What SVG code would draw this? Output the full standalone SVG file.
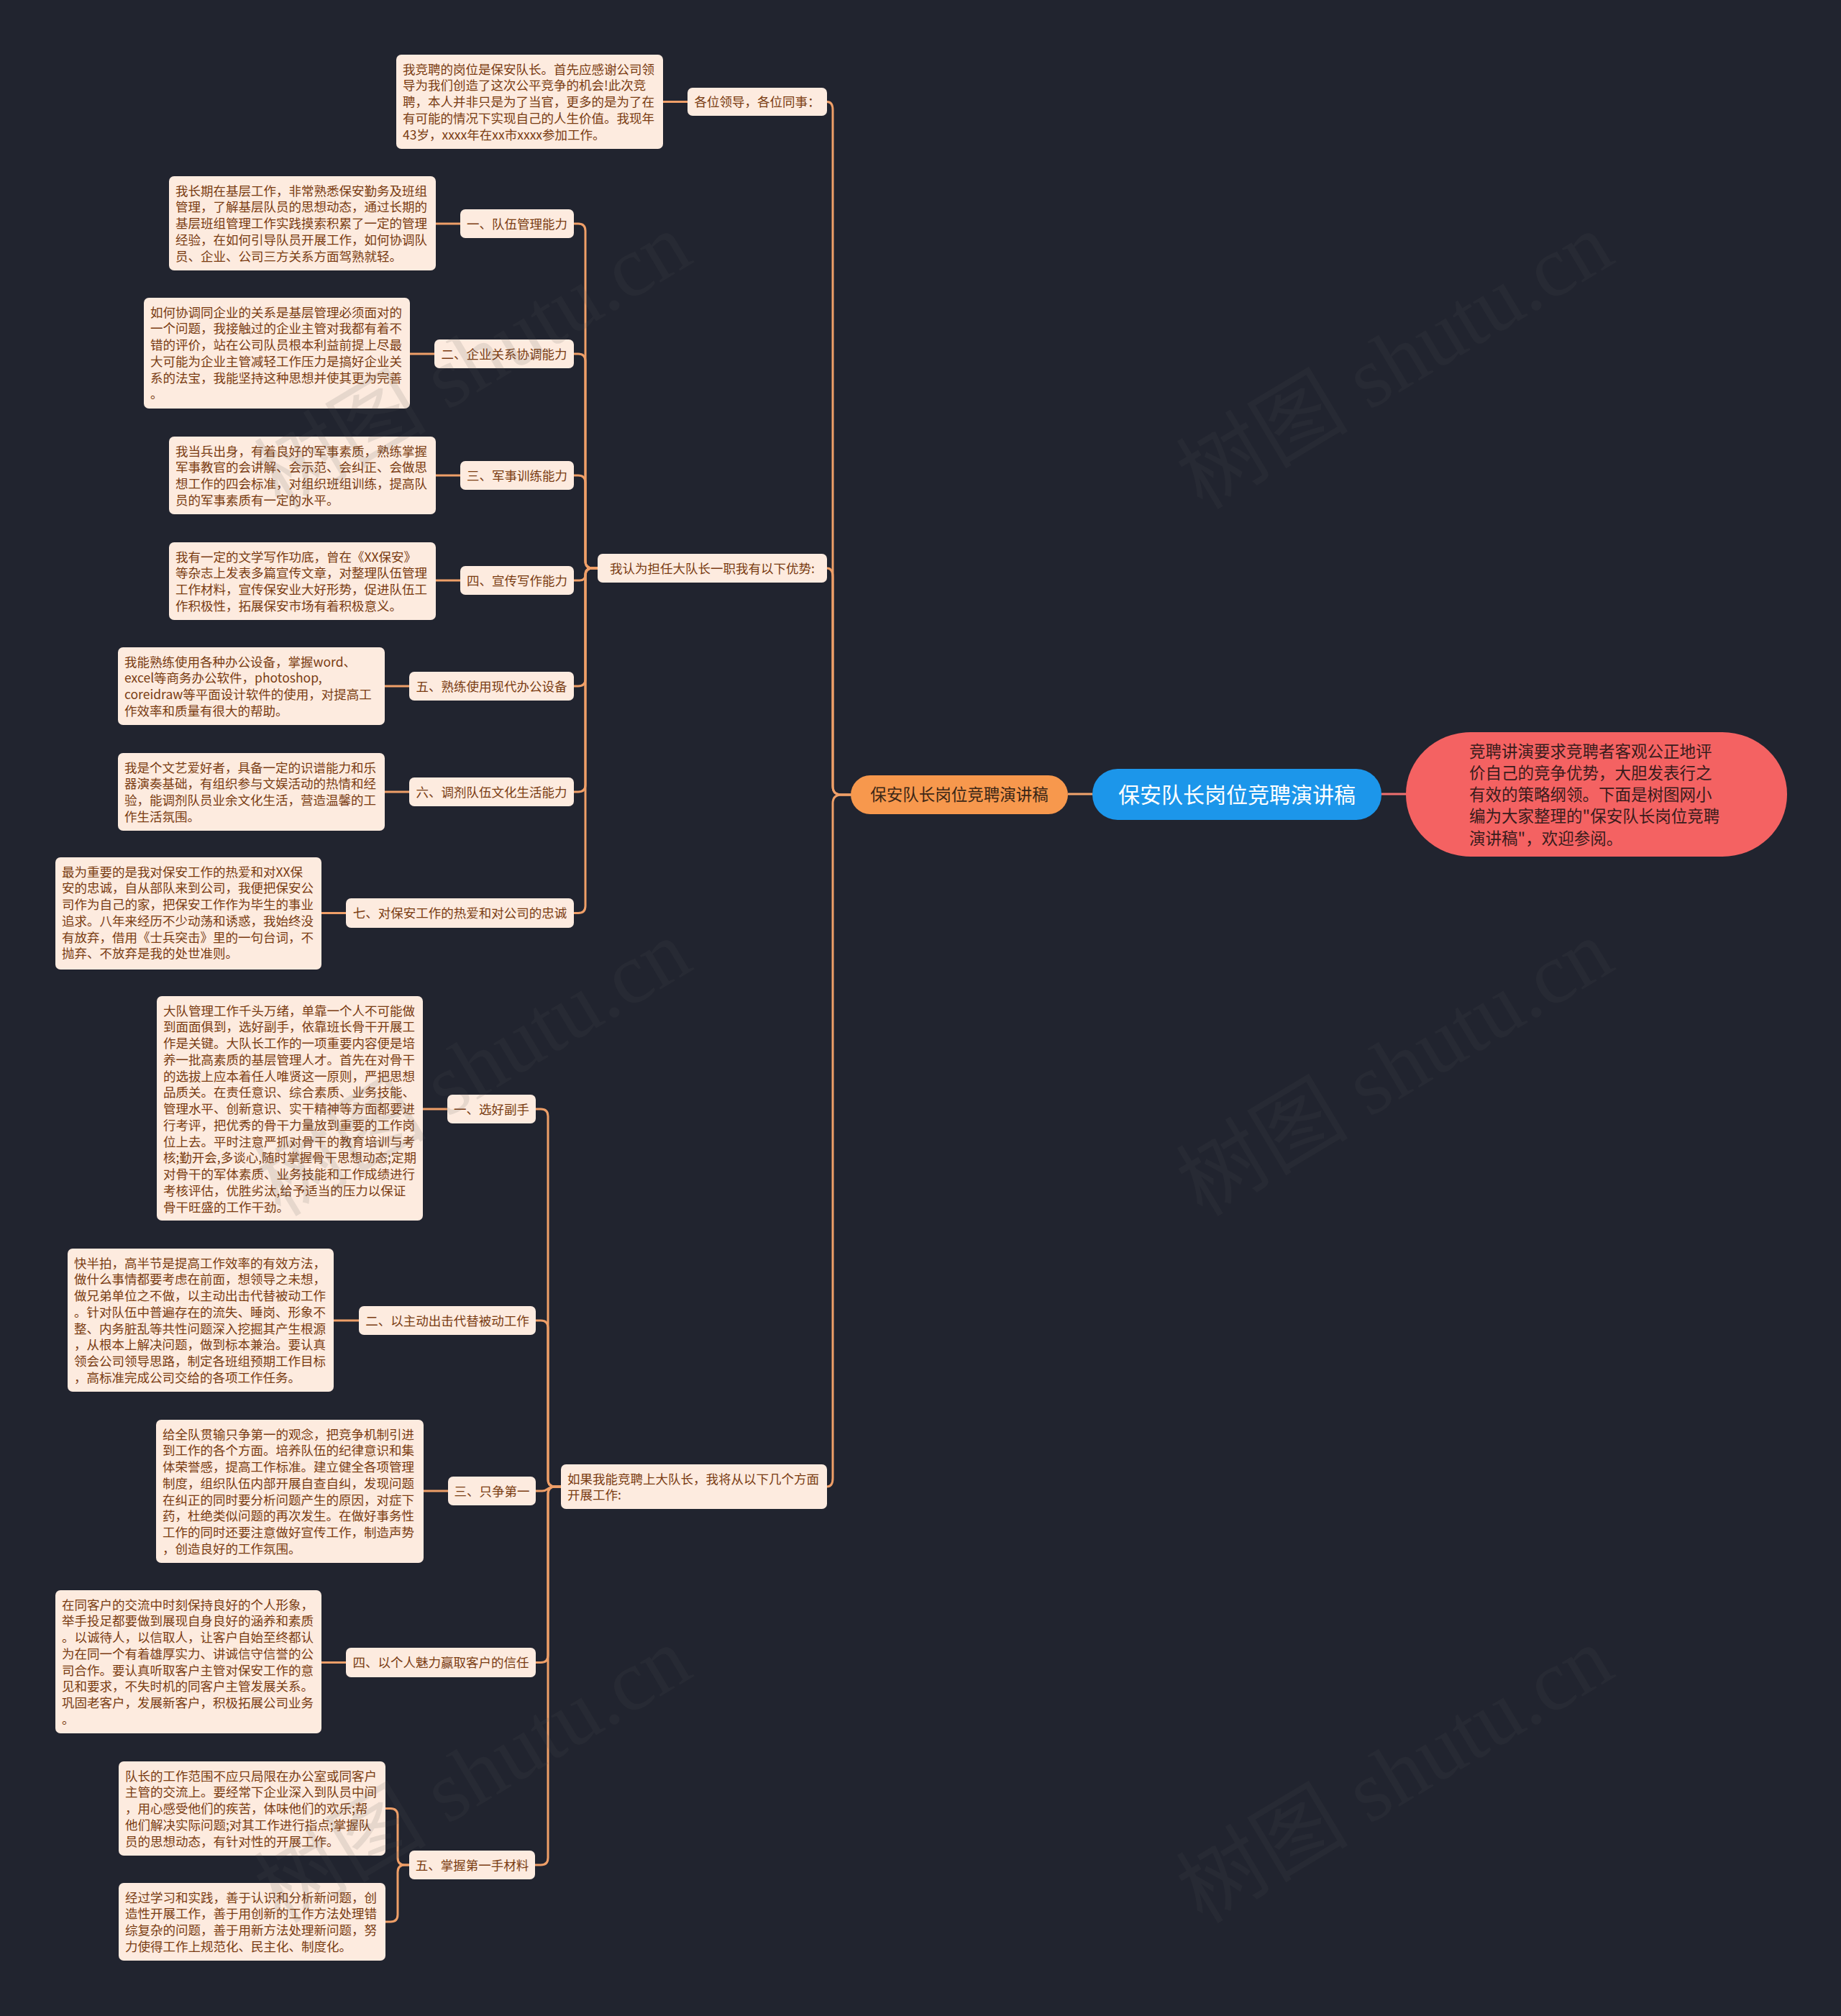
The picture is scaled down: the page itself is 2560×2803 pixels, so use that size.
<svg xmlns="http://www.w3.org/2000/svg" width="2560" height="2803" viewBox="0 0 2560 2803">
<style>
.bg{fill:#21242f}
.box{fill:#fdebdf}
.t{font-family:"Noto Sans CJK SC","Liberation Sans",sans-serif;font-size:17.5px;fill:#7a3c12}
.tc{font-family:"Noto Sans CJK SC","Liberation Sans",sans-serif;font-size:17.5px;fill:#7a3c12;text-anchor:middle}
.ln{fill:none;stroke:#ef9f68;stroke-width:3;stroke-linecap:round}
.wm{font-family:"Liberation Serif","Noto Sans CJK SC",serif;font-size:120px;fill:#555555;opacity:0.13}
</style>
<rect class="bg" x="0" y="0" width="2560" height="2803"/>

<g id="connectors">
  <line x1="1921" y1="1104" x2="1955" y2="1104" stroke="#ef6f6f" stroke-width="3"/>
  <line x1="1485" y1="1104" x2="1519" y2="1104" stroke="#f2a46c" stroke-width="3"/>
  <path class="ln" d="M1183 1105 H1170 Q1158 1105 1158 1093 V153 Q1158 141.5 1150 141.5"/>
  <path class="ln" d="M1183 1105 H1170 Q1158 1105 1158 1093 V802 Q1158 790 1150 790"/>
  <path class="ln" d="M1183 1105 H1170 Q1158 1105 1158 1117 V2055 Q1158 2067 1150 2067"/>
  <line class="ln" x1="922" y1="141.5" x2="956" y2="141.5"/>
  <path class="ln" d="M831 790 H824 Q814 790 814 780 V321 Q814 311 804 311 H798"/>
  <path class="ln" d="M831 790 H824 Q814 790 814 780 V502 Q814 492 804 492 H798"/>
  <path class="ln" d="M831 790 H824 Q814 790 814 780 V671 Q814 661 804 661 H798"/>
  <path class="ln" d="M831 790 H824 Q814 790 814 798 V799 Q814 807 806 807 H798"/>
  <path class="ln" d="M831 790 H824 Q814 790 814 800 V944 Q814 954 804 954 H798"/>
  <path class="ln" d="M831 790 H824 Q814 790 814 800 V1091 Q814 1101 804 1101 H798"/>
  <path class="ln" d="M831 790 H824 Q814 790 814 800 V1259.5 Q814 1269.5 804 1269.5 H798"/>
  <line class="ln" x1="606" y1="311" x2="640" y2="311"/>
  <line class="ln" x1="570" y1="492" x2="604" y2="492"/>
  <line class="ln" x1="606" y1="661" x2="640" y2="661"/>
  <line class="ln" x1="606" y1="807" x2="640" y2="807"/>
  <line class="ln" x1="535" y1="954" x2="569" y2="954"/>
  <line class="ln" x1="535" y1="1101" x2="569" y2="1101"/>
  <line class="ln" x1="447" y1="1269.5" x2="481" y2="1269.5"/>
  <path class="ln" d="M780 2067 H772 Q762 2067 762 2057 V1552 Q762 1542 752 1542 H745"/>
  <path class="ln" d="M780 2067 H772 Q762 2067 762 2057 V1846 Q762 1836 752 1836 H745"/>
  <path class="ln" d="M780 2067 H770 C762 2067 762 2073 754 2073 H745"/>
  <path class="ln" d="M780 2067 H772 Q762 2067 762 2077 V2301.5 Q762 2311.5 752 2311.5 H745"/>
  <path class="ln" d="M780 2067 H772 Q762 2067 762 2077 V2583 Q762 2593 752 2593 H744"/>
  <line class="ln" x1="588" y1="1542" x2="622" y2="1542"/>
  <line class="ln" x1="464" y1="1836" x2="499" y2="1836"/>
  <line class="ln" x1="589" y1="2073" x2="623" y2="2073"/>
  <line class="ln" x1="447" y1="2311.5" x2="481" y2="2311.5"/>
  <path class="ln" d="M569 2593 H563 Q553 2593 553 2583 V2524.5 Q553 2514.5 543 2514.5 H536"/>
  <path class="ln" d="M569 2593 H563 Q553 2593 553 2603 V2662 Q553 2672 543 2672 H536"/>
</g>

<g id="root">
  <rect x="1519" y="1069" width="402" height="71" rx="35" fill="#1c96ea"/>
  <text x="1720" y="1115.5" font-family="Noto Sans CJK SC, Liberation Sans, sans-serif" font-size="30" fill="#ffffff" text-anchor="middle">保安队长岗位竞聘演讲稿</text>
</g>

<g id="summary">
  <rect x="1955" y="1018" width="530" height="173" rx="90" ry="86" fill="#f46262"/>
  <text font-family="Noto Sans CJK SC, Liberation Sans, sans-serif" font-size="22.5" fill="#3a1c1c">
    <tspan x="2043" y="1052.5">竞聘讲演要求竞聘者客观公正地评</tspan>
    <tspan x="2043" y="1082.5">价自己的竞争优势，大胆发表行之</tspan>
    <tspan x="2043" y="1112.5">有效的策略纲领。下面是树图网小</tspan>
    <tspan x="2043" y="1143">编为大家整理的"保安队长岗位竞聘</tspan>
    <tspan x="2043" y="1173.5">演讲稿"，欢迎参阅。</tspan>
  </text>
</g>

<g id="main-branch">
  <rect x="1183" y="1078" width="302" height="54" rx="27" fill="#f7984d"/>
  <text x="1334" y="1113" font-family="Noto Sans CJK SC, Liberation Sans, sans-serif" font-size="22.5" fill="#3b2616" text-anchor="middle">保安队长岗位竞聘演讲稿</text>
</g>

<g id="n-greeting">
  <rect class="box" x="956" y="122" width="194" height="39" rx="7"/>
  <text class="tc" x="1053" y="148">各位领导，各位同事：</text>
</g>
<g id="n-greeting-leaf">
  <rect class="box" x="551" y="76" width="371" height="131" rx="7"/>
  <text class="t">
    <tspan x="560" y="102.5">我竞聘的岗位是保安队长。首先应感谢公司领</tspan>
    <tspan x="560" y="125.25">导为我们创造了这次公平竞争的机会!此次竞</tspan>
    <tspan x="560" y="148">聘，本人并非只是为了当官，更多的是为了在</tspan>
    <tspan x="560" y="170.75">有可能的情况下实现自己的人生价值。我现年</tspan>
    <tspan x="560" y="193.5">43岁，xxxx年在xx市xxxx参加工作。</tspan>
  </text>
</g>

<g id="n-advantages">
  <rect class="box" x="831" y="770" width="319" height="40" rx="7"/>
  <text class="tc" x="990.5" y="796.5">我认为担任大队长一职我有以下优势:</text>
</g>

<g id="a1">
  <rect class="box" x="640" y="291" width="158" height="40" rx="7"/>
  <text class="tc" x="719" y="317.5">一、队伍管理能力</text>
</g>
<g id="a1-leaf">
  <rect class="box" x="235" y="245" width="371" height="131" rx="7"/>
  <text class="t">
    <tspan x="244" y="271.5">我长期在基层工作，非常熟悉保安勤务及班组</tspan>
    <tspan x="244" y="294.25">管理，了解基层队员的思想动态，通过长期的</tspan>
    <tspan x="244" y="317">基层班组管理工作实践摸索积累了一定的管理</tspan>
    <tspan x="244" y="339.75">经验，在如何引导队员开展工作，如何协调队</tspan>
    <tspan x="244" y="362.5">员、企业、公司三方关系方面驾熟就轻。</tspan>
  </text>
</g>

<g id="a2">
  <rect class="box" x="604" y="472" width="194" height="40" rx="7"/>
  <text class="tc" x="701" y="498.5">二、企业关系协调能力</text>
</g>
<g id="a2-leaf">
  <rect class="box" x="200" y="414" width="370" height="154" rx="7"/>
  <text class="t">
    <tspan x="209" y="440.5">如何协调同企业的关系是基层管理必须面对的</tspan>
    <tspan x="209" y="463.25">一个问题，我接触过的企业主管对我都有着不</tspan>
    <tspan x="209" y="486">错的评价，站在公司队员根本利益前提上尽最</tspan>
    <tspan x="209" y="508.75">大可能为企业主管减轻工作压力是搞好企业关</tspan>
    <tspan x="209" y="531.5">系的法宝，我能坚持这种思想并使其更为完善</tspan>
    <tspan x="209" y="554.25">。</tspan>
  </text>
</g>

<g id="a3">
  <rect class="box" x="640" y="641" width="158" height="40" rx="7"/>
  <text class="tc" x="719" y="667.5">三、军事训练能力</text>
</g>
<g id="a3-leaf">
  <rect class="box" x="235" y="607" width="371" height="108" rx="7"/>
  <text class="t">
    <tspan x="244" y="633.5">我当兵出身，有着良好的军事素质，熟练掌握</tspan>
    <tspan x="244" y="656.25">军事教官的会讲解、会示范、会纠正、会做思</tspan>
    <tspan x="244" y="679">想工作的四会标准，对组织班组训练，提高队</tspan>
    <tspan x="244" y="701.75">员的军事素质有一定的水平。</tspan>
  </text>
</g>

<g id="a4">
  <rect class="box" x="640" y="787" width="158" height="40" rx="7"/>
  <text class="tc" x="719" y="813.5">四、宣传写作能力</text>
</g>
<g id="a4-leaf">
  <rect class="box" x="235" y="754" width="371" height="108" rx="7"/>
  <text class="t">
    <tspan x="244" y="780.5">我有一定的文学写作功底，曾在《XX保安》</tspan>
    <tspan x="244" y="803.25">等杂志上发表多篇宣传文章，对整理队伍管理</tspan>
    <tspan x="244" y="826">工作材料，宣传保安业大好形势，促进队伍工</tspan>
    <tspan x="244" y="848.75">作积极性，拓展保安市场有着积极意义。</tspan>
  </text>
</g>

<g id="a5">
  <rect class="box" x="569" y="934" width="229" height="40" rx="7"/>
  <text class="tc" x="683.5" y="960.5">五、熟练使用现代办公设备</text>
</g>
<g id="a5-leaf">
  <rect class="box" x="164" y="900" width="371" height="108" rx="7"/>
  <text class="t">
    <tspan x="173" y="926.5">我能熟练使用各种办公设备，掌握word、</tspan>
    <tspan x="173" y="949.25">excel等商务办公软件，photoshop,</tspan>
    <tspan x="173" y="972">coreidraw等平面设计软件的使用，对提高工</tspan>
    <tspan x="173" y="994.75">作效率和质量有很大的帮助。</tspan>
  </text>
</g>

<g id="a6">
  <rect class="box" x="569" y="1081" width="229" height="40" rx="7"/>
  <text class="tc" x="683.5" y="1107.5">六、调剂队伍文化生活能力</text>
</g>
<g id="a6-leaf">
  <rect class="box" x="164" y="1047" width="371" height="108" rx="7"/>
  <text class="t">
    <tspan x="173" y="1073.5">我是个文艺爱好者，具备一定的识谱能力和乐</tspan>
    <tspan x="173" y="1096.25">器演奏基础，有组织参与文娱活动的热情和经</tspan>
    <tspan x="173" y="1119">验，能调剂队员业余文化生活，营造温馨的工</tspan>
    <tspan x="173" y="1141.75">作生活氛围。</tspan>
  </text>
</g>

<g id="a7">
  <rect class="box" x="481" y="1249" width="317" height="41" rx="7"/>
  <text class="tc" x="639.5" y="1276">七、对保安工作的热爱和对公司的忠诚</text>
</g>
<g id="a7-leaf">
  <rect class="box" x="77" y="1192" width="370" height="156" rx="7"/>
  <text class="t">
    <tspan x="86" y="1218.5">最为重要的是我对保安工作的热爱和对XX保</tspan>
    <tspan x="86" y="1241.25">安的忠诚，自从部队来到公司，我便把保安公</tspan>
    <tspan x="86" y="1264">司作为自己的家，把保安工作作为毕生的事业</tspan>
    <tspan x="86" y="1286.75">追求。八年来经历不少动荡和诱惑，我始终没</tspan>
    <tspan x="86" y="1309.5">有放弃，借用《士兵突击》里的一句台词，不</tspan>
    <tspan x="86" y="1332.25">抛弃、不放弃是我的处世准则。</tspan>
  </text>
</g>

<g id="n-work">
  <rect class="box" x="780" y="2036" width="370" height="62" rx="7"/>
  <text class="t">
    <tspan x="789" y="2062.5">如果我能竞聘上大队长，我将从以下几个方面</tspan>
    <tspan x="789" y="2085.25">开展工作:</tspan>
  </text>
</g>

<g id="b1">
  <rect class="box" x="622" y="1522" width="123" height="40" rx="7"/>
  <text class="tc" x="683.5" y="1548.5">一、选好副手</text>
</g>
<g id="b1-leaf">
  <rect class="box" x="218" y="1385" width="370" height="312" rx="7"/>
  <text class="t">
    <tspan x="227" y="1411.5">大队管理工作千头万绪，单靠一个人不可能做</tspan>
    <tspan x="227" y="1434.25">到面面俱到，选好副手，依靠班长骨干开展工</tspan>
    <tspan x="227" y="1457">作是关键。大队长工作的一项重要内容便是培</tspan>
    <tspan x="227" y="1479.75">养一批高素质的基层管理人才。首先在对骨干</tspan>
    <tspan x="227" y="1502.5">的选拔上应本着任人唯贤这一原则，严把思想</tspan>
    <tspan x="227" y="1525.25">品质关。在责任意识、综合素质、业务技能、</tspan>
    <tspan x="227" y="1548">管理水平、创新意识、实干精神等方面都要进</tspan>
    <tspan x="227" y="1570.75">行考评，把优秀的骨干力量放到重要的工作岗</tspan>
    <tspan x="227" y="1593.5">位上去。平时注意严抓对骨干的教育培训与考</tspan>
    <tspan x="227" y="1616.25">核;勤开会,多谈心,随时掌握骨干思想动态;定期</tspan>
    <tspan x="227" y="1639">对骨干的军体素质、业务技能和工作成绩进行</tspan>
    <tspan x="227" y="1661.75">考核评估，优胜劣汰,给予适当的压力以保证</tspan>
    <tspan x="227" y="1684.5">骨干旺盛的工作干劲。</tspan>
  </text>
</g>

<g id="b2">
  <rect class="box" x="499" y="1816" width="246" height="40" rx="7"/>
  <text class="tc" x="622" y="1842.5">二、以主动出击代替被动工作</text>
</g>
<g id="b2-leaf">
  <rect class="box" x="94" y="1736" width="370" height="199" rx="7"/>
  <text class="t">
    <tspan x="103" y="1762.5">快半拍，高半节是提高工作效率的有效方法，</tspan>
    <tspan x="103" y="1785.25">做什么事情都要考虑在前面，想领导之未想，</tspan>
    <tspan x="103" y="1808">做兄弟单位之不做，以主动出击代替被动工作</tspan>
    <tspan x="103" y="1830.75">。针对队伍中普遍存在的流失、睡岗、形象不</tspan>
    <tspan x="103" y="1853.5">整、内务脏乱等共性问题深入挖掘其产生根源</tspan>
    <tspan x="103" y="1876.25">，从根本上解决问题，做到标本兼治。要认真</tspan>
    <tspan x="103" y="1899">领会公司领导思路，制定各班组预期工作目标</tspan>
    <tspan x="103" y="1921.75">，高标准完成公司交给的各项工作任务。</tspan>
  </text>
</g>

<g id="b3">
  <rect class="box" x="623" y="2053" width="122" height="40" rx="7"/>
  <text class="tc" x="684" y="2079.5">三、只争第一</text>
</g>
<g id="b3-leaf">
  <rect class="box" x="217" y="1974" width="372" height="199" rx="7"/>
  <text class="t">
    <tspan x="226" y="2000.5">给全队贯输只争第一的观念，把竞争机制引进</tspan>
    <tspan x="226" y="2023.25">到工作的各个方面。培养队伍的纪律意识和集</tspan>
    <tspan x="226" y="2046">体荣誉感，提高工作标准。建立健全各项管理</tspan>
    <tspan x="226" y="2068.75">制度，组织队伍内部开展自查自纠，发现问题</tspan>
    <tspan x="226" y="2091.5">在纠正的同时要分析问题产生的原因，对症下</tspan>
    <tspan x="226" y="2114.25">药，杜绝类似问题的再次发生。在做好事务性</tspan>
    <tspan x="226" y="2137">工作的同时还要注意做好宣传工作，制造声势</tspan>
    <tspan x="226" y="2159.75">，创造良好的工作氛围。</tspan>
  </text>
</g>

<g id="b4">
  <rect class="box" x="481" y="2291" width="264" height="41" rx="7"/>
  <text class="tc" x="613" y="2318">四、以个人魅力赢取客户的信任</text>
</g>
<g id="b4-leaf">
  <rect class="box" x="77" y="2211" width="370" height="199" rx="7"/>
  <text class="t">
    <tspan x="86" y="2237.5">在同客户的交流中时刻保持良好的个人形象，</tspan>
    <tspan x="86" y="2260.25">举手投足都要做到展现自身良好的涵养和素质</tspan>
    <tspan x="86" y="2283">。以诚待人，以信取人，让客户自始至终都认</tspan>
    <tspan x="86" y="2305.75">为在同一个有着雄厚实力、讲诚信守信誉的公</tspan>
    <tspan x="86" y="2328.5">司合作。要认真听取客户主管对保安工作的意</tspan>
    <tspan x="86" y="2351.25">见和要求，不失时机的同客户主管发展关系。</tspan>
    <tspan x="86" y="2374">巩固老客户，发展新客户，积极拓展公司业务</tspan>
    <tspan x="86" y="2396.75">。</tspan>
  </text>
</g>

<g id="b5">
  <rect class="box" x="569" y="2573" width="175" height="40" rx="7"/>
  <text class="tc" x="656.5" y="2599.5">五、掌握第一手材料</text>
</g>
<g id="b5-leaf1">
  <rect class="box" x="165" y="2449" width="371" height="131" rx="7"/>
  <text class="t">
    <tspan x="174" y="2475.5">队长的工作范围不应只局限在办公室或同客户</tspan>
    <tspan x="174" y="2498.25">主管的交流上。要经常下企业深入到队员中间</tspan>
    <tspan x="174" y="2521">，用心感受他们的疾苦，体味他们的欢乐;帮</tspan>
    <tspan x="174" y="2543.75">他们解决实际问题;对其工作进行指点;掌握队</tspan>
    <tspan x="174" y="2566.5">员的思想动态，有针对性的开展工作。</tspan>
  </text>
</g>
<g id="b5-leaf2">
  <rect class="box" x="165" y="2618" width="371" height="108" rx="7"/>
  <text class="t">
    <tspan x="174" y="2644.5">经过学习和实践，善于认识和分析新问题，创</tspan>
    <tspan x="174" y="2667.25">造性开展工作，善于用创新的工作方法处理错</tspan>
    <tspan x="174" y="2690">综复杂的问题，善于用新方法处理新问题，努</tspan>
    <tspan x="174" y="2712.75">力使得工作上规范化、民主化、制度化。</tspan>
  </text>
</g>

<g id="watermarks">
  <text class="wm" transform="translate(390 710) rotate(-31)">树图 shutu.cn</text>
  <text class="wm" transform="translate(1672 710) rotate(-31)">树图 shutu.cn</text>
  <text class="wm" transform="translate(390 1693) rotate(-31)">树图 shutu.cn</text>
  <text class="wm" transform="translate(1672 1693) rotate(-31)">树图 shutu.cn</text>
  <text class="wm" transform="translate(390 2676) rotate(-31)">树图 shutu.cn</text>
  <text class="wm" transform="translate(1672 2676) rotate(-31)">树图 shutu.cn</text>
</g>
</svg>
